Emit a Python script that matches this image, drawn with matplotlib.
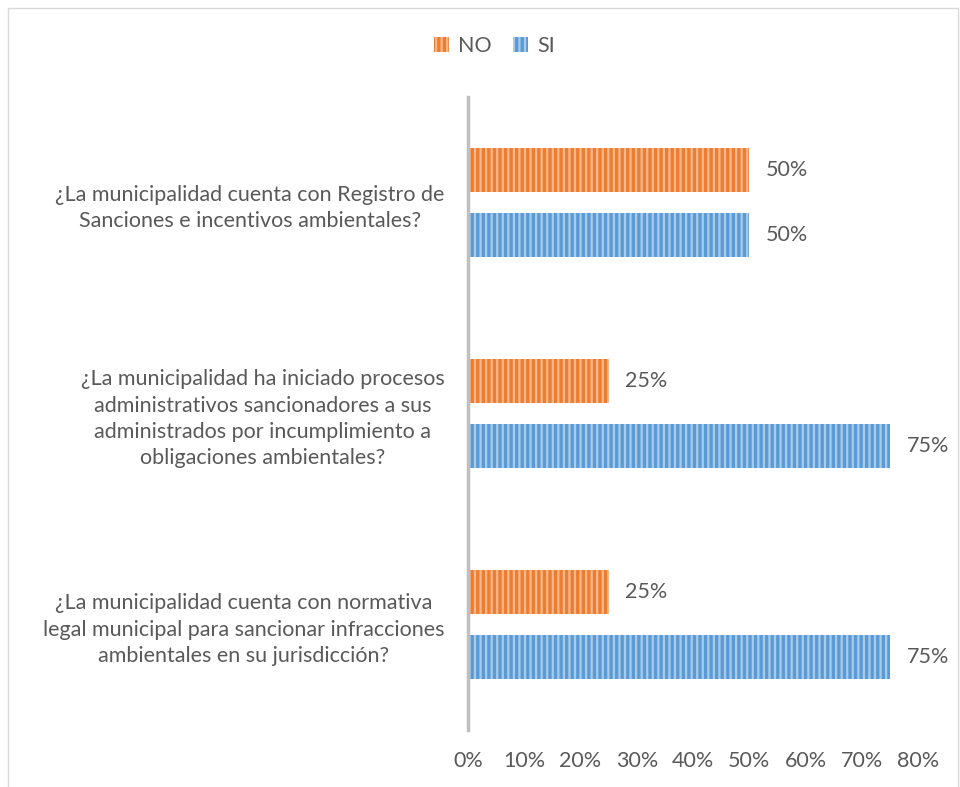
import matplotlib.pyplot as plt
import matplotlib.patches as mpatches
import numpy as np

plt.rcParams['font.family'] = ['Lato', 'DejaVu Sans']
plt.rcParams['hatch.linewidth'] = 1.6

# Data
preguntas = [
    '¿La municipalidad cuenta con Registro de\nSanciones e incentivos ambientales?',
    '¿La municipalidad ha iniciado procesos\nadministrativos sancionadores a sus\nadministrados por incumplimiento a\nobligaciones ambientales?',
    '¿La municipalidad cuenta con normativa\nlegal municipal para sancionar infracciones\nambientales en su jurisdicción?',
]
no_vals = [50, 25, 25]
si_vals = [50, 75, 75]

orange = '#ED7D31'
orange_lt = '#F6B98E'
blue = '#5B9BD5'
blue_lt = '#A9CBEA'
text_col = '#595959'
fs = 15.5

fig = plt.figure(figsize=(9.6, 7.87), dpi=100)
ax = fig.add_axes([0.4875, 0.0724, 0.4688, 0.8043])

y = np.arange(len(preguntas))[::-1].astype(float)  # first question at top
off = 0.155
h = 0.21

b_no = ax.barh(y + off, no_vals, height=h, color=orange, edgecolor=orange_lt,
               hatch='|||', linewidth=0, label='NO')
b_si = ax.barh(y - off, si_vals, height=h, color=blue, edgecolor=blue_lt,
               hatch='|||', linewidth=0, label='SI')

for bars, vals in [(b_no, no_vals), (b_si, si_vals)]:
    for rect, v in zip(bars, vals):
        ax.annotate(f'{v}%', (v, rect.get_y() + rect.get_height() / 2),
                    xytext=(12, 0), textcoords='offset points',
                    ha='left', va='center', fontsize=fs, color=text_col)

ax.set_xlim(0, 80)
ax.set_ylim(-0.5, 2.5)
ax.set_xticks(np.arange(0, 81, 10))
ax.set_xticklabels([f'{t}%' for t in range(0, 81, 10)])
ax.set_yticks(y)
ax.set_yticklabels(preguntas, multialignment='center', linespacing=1.4)
ax.tick_params(axis='both', length=0, labelsize=fs, colors=text_col)
ax.tick_params(axis='x', pad=15)
ax.tick_params(axis='y', pad=17)

for s in ['top', 'right', 'bottom']:
    ax.spines[s].set_visible(False)
ax.spines['left'].set_color('#BFBFBF')
ax.spines['left'].set_linewidth(2.5)

fig.legend(handles=[b_no, b_si], loc='center', bbox_to_anchor=(0.515, 0.942),
           ncol=2, frameon=False, fontsize=fs, labelcolor=text_col,
           handlelength=0.7, handleheight=0.7, handletextpad=0.4, columnspacing=1.0)

# chart border
fig.patches.append(mpatches.Rectangle((0.008, -0.01), 0.99, 1.0, transform=fig.transFigure,
                                      fill=False, edgecolor='#D9D9D9', linewidth=1))

fig.savefig('out.png', dpi=100)
